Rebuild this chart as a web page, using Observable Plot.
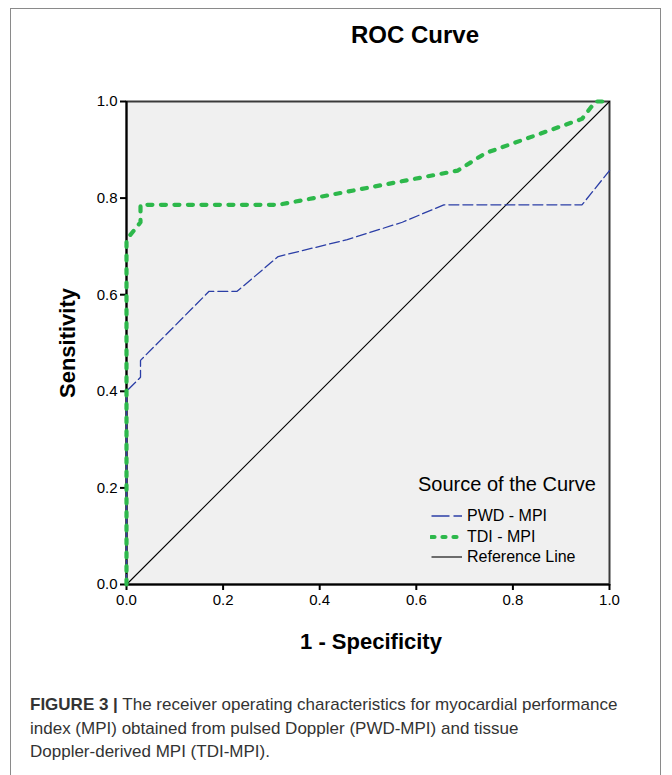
<!DOCTYPE html>
<html>
<head>
<meta charset="utf-8">
<script src="https://cdn.jsdelivr.net/npm/d3@7"></script>
<script src="https://cdn.jsdelivr.net/npm/@observablehq/plot@0.6"></script>
<style>
  body { margin: 0; background: #fff; font-family: "Liberation Sans", Arial, sans-serif; }
  #wrap { position: relative; width: 672px; height: 775px; overflow: hidden; }
  #frame { position: absolute; left: 10px; top: 8px; width: 651px; height: 820px; border: 1.5px solid #8a8a8a; box-sizing: border-box; }
  #title { position: absolute; left: 315px; width: 200px; top: 21px; text-align: center; font-weight: bold; font-size: 24px; color: #000; }
  #chart { position: absolute; left: 0; top: 0; }
  #legend { position: absolute; left: 418px; top: 471px; color: #000; }
  #legend .head { font-size: 20px; line-height: 26px; margin-bottom: 9px; }
  #legend .row { display: flex; align-items: center; height: 20.5px; font-size: 16px; margin-left: 12px; }
  #legend svg { margin-right: 3px; }
  #caption { position: absolute; left: 30px; top: 693px; width: 640px; font-size: 17px; line-height: 23.5px; color: #333; white-space: nowrap; }
</style>
</head>
<body>
<div id="wrap">
  <div id="frame"></div>
  <div id="chart"></div>
  <div id="title">ROC Curve</div>
  <div id="legend"></div>
  <div id="caption"><b>FIGURE 3 |</b> The receiver operating characteristics for myocardial performance<br>index (MPI) obtained from pulsed Doppler (PWD-MPI) and tissue<br>Doppler-derived MPI (TDI-MPI).</div>
</div>
<script>
// 1 - Specificity (x) and Sensitivity (y) for each curve
const pwdX = [0, 0, 0.029, 0.029, 0.171, 0.229, 0.314, 0.457, 0.571, 0.657, 0.943, 1.0];
const pwdY = [0, 0.400, 0.429, 0.464, 0.607, 0.607, 0.679, 0.714, 0.750, 0.786, 0.786, 0.857];
const tdiX = [0, 0, 0.029, 0.029, 0.314, 0.686, 0.743, 0.943, 0.971, 1.0];
const tdiY = [0, 0.714, 0.750, 0.786, 0.786, 0.857, 0.893, 0.964, 1.0, 1.0];
const refX = [0, 1];
const refY = [0, 1];
const ticks = [0, 0.2, 0.4, 0.6, 0.8, 1.0];

const series = [
  {name: "PWD - MPI", color: "#2b3ea6", width: 1.3, dash: "10,4", cap: "butt"},
  {name: "TDI - MPI", color: "#2db84b", width: 4.2, dash: "5,8.5", cap: "round"},
  {name: "Reference Line", color: "#000", width: 1.1, dash: null, cap: "butt"}
];

const toRows = (xs, ys) => xs.map((x, i) => ({x, y: ys[i]}));
const pwd = toRows(pwdX, pwdY);
const tdi = toRows(tdiX, tdiY);
const ref = toRows(refX, refY);

const chart = Plot.plot({
  width: 672,
  height: 660,
  marginLeft: 126,
  marginRight: 63,
  marginTop: 101,
  marginBottom: 76,
  style: {fontFamily: "Liberation Sans, Arial, sans-serif", background: "transparent"},
  x: {domain: [0, 1], ticks, tickFormat: d3.format(".1f")},
  y: {domain: [0, 1], ticks, tickFormat: d3.format(".1f")},
  marks: [
    Plot.frame({fill: "#f0f0f0", stroke: "#3a3a3a", strokeWidth: 2}),
    Plot.axisX({ticks, tickFormat: d3.format(".1f"), tickSize: 6, tickPadding: 4, fontSize: 15, label: null, stroke: "#000", strokeWidth: 2, color: "#000"}),
    Plot.axisY({ticks, tickFormat: d3.format(".1f"), tickSize: 6, tickPadding: 3, fontSize: 15, label: null, stroke: "#000", strokeWidth: 2, color: "#000"}),
    Plot.ruleX([0], {stroke: "#000", strokeWidth: 2}),
    Plot.ruleY([0], {stroke: "#000", strokeWidth: 2}),
    Plot.line(ref, {x: "x", y: "y", stroke: series[2].color, strokeWidth: series[2].width}),
    Plot.line(pwd, {x: "x", y: "y", stroke: series[0].color, strokeWidth: series[0].width, strokeDasharray: series[0].dash, strokeLinejoin: "miter"}),
    Plot.line(tdi, {x: "x", y: "y", stroke: series[1].color, strokeWidth: series[1].width, strokeDasharray: series[1].dash, strokeLinecap: "round"}),
    Plot.text(["Sensitivity"], {frameAnchor: "left", dx: -59, rotate: -90, textAnchor: "middle", lineAnchor: "middle", fontSize: 22, fontWeight: "bold", fill: "#000"}),
    Plot.text(["1 - Specificity"], {frameAnchor: "bottom", dy: 57, dx: 3, textAnchor: "middle", lineAnchor: "middle", fontSize: 22, fontWeight: "bold", fill: "#000"})
  ]
});
document.getElementById("chart").appendChild(chart);

// legend
const legend = document.getElementById("legend");
const head = document.createElement("div");
head.className = "head";
head.textContent = "Source of the Curve";
legend.appendChild(head);
for (const s of series) {
  const row = document.createElement("div");
  row.className = "row";
  const svg = d3.create("svg").attr("width", 34).attr("height", 10);
  svg.append("line").attr("x1", 1.5).attr("x2", 32).attr("y1", 5).attr("y2", 5)
    .attr("stroke", s.color).attr("stroke-width", s.width)
    .attr("stroke-dasharray", s.dash === null ? null : (s.cap === "round" ? "3,8" : "18,4"))
    .attr("stroke-linecap", s.cap);
  row.appendChild(svg.node());
  const t = document.createElement("span");
  t.textContent = s.name;
  row.appendChild(t);
  legend.appendChild(row);
}
</script>
</body>
</html>
